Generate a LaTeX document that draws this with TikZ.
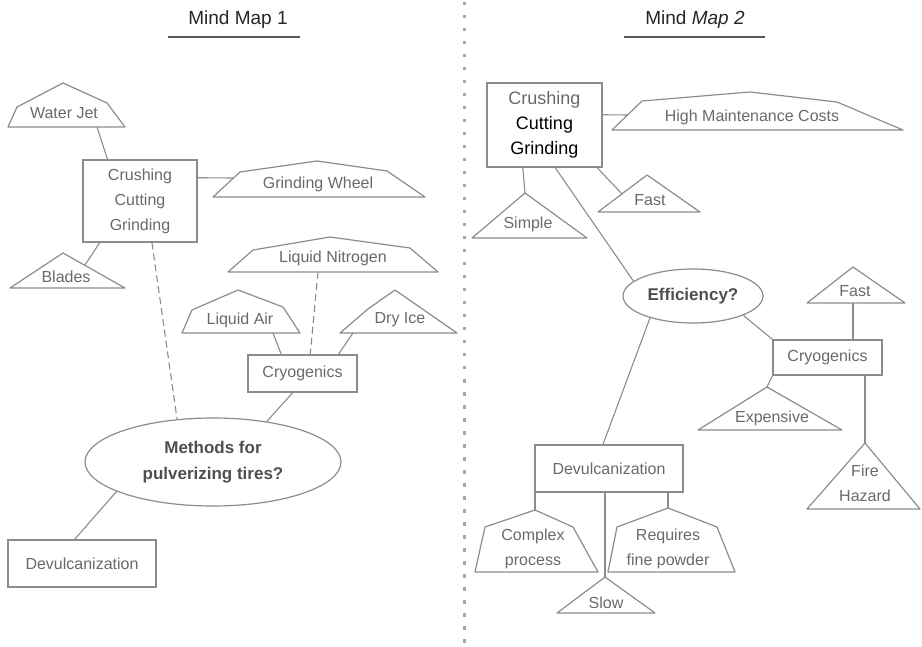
\documentclass[tikz,border=0pt]{standalone}
\usepackage{fontspec}
\setmainfont{Liberation Sans}
\usetikzlibrary{shapes.geometric}

\definecolor{ink}{RGB}{105,105,105}
\definecolor{wire}{RGB}{140,140,140}

\begin{document}
\begin{tikzpicture}[x=1pt,y=-1pt,
  box/.style={draw=wire,line width=1.2pt,inner sep=0pt,text=ink,align=center,font=\fontsize{16}{25}\selectfont},
  oval/.style={ellipse,draw=wire,line width=1.2pt,inner sep=0pt,text=ink!75!black,align=center,font=\bfseries\fontsize{17}{26}\selectfont},
  tent/.style={draw=wire,line width=1.2pt,line join=round},
  lbl/.style={inner sep=0pt,text=ink,align=center,font=\fontsize{16}{25}\selectfont},
  link/.style={draw=wire,line width=1.1pt},
  dashlink/.style={draw=wire,line width=1.1pt,dash pattern=on 7pt off 4pt}]
\useasboundingbox (0,0) rectangle (922,647);

% titles and the dotted divider
\node[text=black!85,font=\fontsize{19}{19}\selectfont] (T1) at (238,20) {Mind Map 1};
\node[text=black!85,font=\fontsize{19}{19}\selectfont] (T2) at (695,20) {Mind \textit{Map 2}};
\draw[black!65,line width=2pt] (168,37) -- (300,37);
\draw[black!65,line width=2pt] (624,37) -- (765,37);
\coordinate (SepT) at (464,2);
\coordinate (SepB) at (464,647);
\draw[black!35,line width=3pt,dash pattern=on 3.5pt off 9.5pt] (SepT) -- (SepB);

% mind map 1
\node[box,minimum width=114pt,minimum height=82pt] (CCG) at (140,201) {Crushing\\Cutting\\Grinding};
\node[box,minimum width=109pt,minimum height=37pt] (CRY) at (302.5,373.5) {Cryogenics};
\node[box,minimum width=148pt,minimum height=47pt] (DEV) at (82,563.5) {Devulcanization};
\node[oval,minimum width=256pt,minimum height=88pt] (MET) at (213,462) {Methods for\\pulverizing tires?};

\draw[tent] (8,127) -- (17,107) -- (63,83) -- (107,103) -- (125,127) -- cycle;
\node[lbl] (WJ) at (64,113) {Water Jet};
\draw[tent] (213,197) -- (240,172) -- (317,161) -- (387,171) -- (425,197) -- cycle;
\node[lbl] (GW) at (318,184) {Grinding Wheel};
\draw[tent] (10,288) -- (63,253) -- (125,288) -- cycle;
\node[lbl] (BL) at (66,277) {Blades};
\draw[tent] (228,272) -- (253,250) -- (330,237) -- (410,248) -- (438,272) -- cycle;
\node[lbl] (LN) at (333,258) {Liquid Nitrogen};
\draw[tent] (182,333) -- (192,310) -- (238,290) -- (283,307) -- (300,333) -- cycle;
\node[lbl] (LA) at (240,320) {Liquid Air};
\draw[tent] (340,333) -- (368,309) -- (395,290) -- (457,333) -- cycle;
\node[lbl] (DI) at (400,320) {Dry Ice};

\coordinate (WJb) at (97,127);
\coordinate (GWl) at (233,178);
\coordinate (BLr) at (85,265);
\coordinate (LNb) at (318,272);
\coordinate (LAb) at (273,333);
\coordinate (DIb) at (353,333);

\path[link] (WJb) edge (CCG.128);
\path[link] (CCG.22) edge (GWl);
\path[link] (CCG.-134) edge (BLr);
\path[dashlink] (CCG.-74) edge (MET.130);
\path[dashlink] (LNb) edge (CRY.68);
\path[link] (LAb) edge (CRY.138);
\path[link] (DIb) edge (CRY.28);
\path[link] (CRY.-117) edge (MET.37);
\path[link] (MET.-163) edge (DEV.107);

% mind map 2
\node[box,text=black,font=\fontsize{18}{25}\selectfont,minimum width=115pt,minimum height=84pt] (RCCG) at (544.5,125) {{\color{ink}Crushing}\\Cutting\\Grinding};
\node[box,minimum width=109pt,minimum height=35pt] (RCRY) at (827.5,357.5) {Cryogenics};
\node[box,minimum width=148pt,minimum height=47pt] (RDEV) at (609,468.5) {Devulcanization};
\node[oval,minimum width=140pt,minimum height=54pt] (EFF) at (693,296) {Efficiency?};

\draw[tent] (612,130) -- (642,101) -- (750,92) -- (837,102) -- (903,130) -- cycle;
\node[lbl] (HM) at (752,117) {High Maintenance Costs};
\draw[tent] (598,212) -- (647,175) -- (700,212) -- cycle;
\node[lbl] (FA) at (650,200) {Fast};
\draw[tent] (472,238) -- (525,193) -- (587,238) -- cycle;
\node[lbl] (SI) at (528,224) {Simple};
\draw[tent] (807,303) -- (853,267) -- (905,303) -- cycle;
\node[lbl] (FT) at (855,291) {Fast};
\draw[tent] (698,430) -- (767,387) -- (842,430) -- cycle;
\node[lbl] (EX) at (772,418) {Expensive};
\draw[tent] (807,509) -- (865,443) -- (920,509) -- cycle;
\node[lbl] (FH) at (865,483) {Fire\\Hazard};
\draw[tent] (475,572) -- (485,527) -- (535,510) -- (573,527) -- (598,572) -- cycle;
\node[lbl] (CP) at (533,549) {Complex\\process};
\draw[tent] (608,572) -- (617,527) -- (668,508) -- (717,527) -- (735,572) -- cycle;
\node[lbl] (RF) at (668,549) {Requires\\fine powder};
\draw[tent] (557,613) -- (605,577) -- (655,613) -- cycle;
\node[lbl] (SL) at (606,603) {Slow};

\coordinate (HMl) at (628,115);
\coordinate (SIt) at (525,193);
\coordinate (FAl) at (622,194);
\coordinate (FTb) at (853,303);
\coordinate (EXt) at (767,387);
\coordinate (FHt) at (865,443);
\coordinate (CPt) at (535,510);
\coordinate (RFt) at (668,508);
\coordinate (SLt) at (605,577);

\path[link] (RCCG.10) edge (HMl);
\path[link] (RCCG.-117) edge (SIt);
\path[link] (RCCG.-76) edge (EFF.166);
\path[link] (RCCG.-39) edge (FAl);
\path[link] (EFF.-153) edge (RDEV.104);
\path[link] (EFF.-21) edge (RCRY.north west);
\path[link] (FTb) edge (FTb |- RCRY.north);
\path[link] (RCRY.south west) edge (EXt);
\path[link] (FHt |- RCRY.south) edge (FHt);
\path[link] (CPt |- RDEV.south) edge (CPt);
\path[link] (RFt |- RDEV.south) edge (RFt);
\path[link] (SLt |- RDEV.south) edge (SLt);

\end{tikzpicture}
\end{document}
